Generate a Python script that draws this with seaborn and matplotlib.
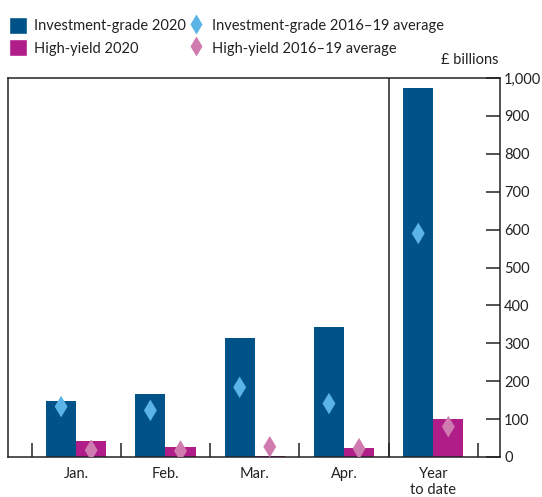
import numpy as np
import pandas as pd
import matplotlib
matplotlib.use('Agg')
import matplotlib.pyplot as plt
import seaborn as sns
from matplotlib.lines import Line2D
from matplotlib.patches import Patch

sns.set_theme(style="white")
plt.rcParams['font.family'] = ['Lato', 'DejaVu Sans']

# Data (£ billions)
categories = ['Jan.', 'Feb.', 'Mar.', 'Apr.', 'Year\nto date']
ig_2020 = [147, 165, 314, 342, 973]
hy_2020 = [42, 27, 3, 24, 100]
ig_avg = [133, 123, 184, 141, 590]
hy_avg = [18, 16, 27, 22, 80]

c_ig = '#005289'
c_hy = '#B01C88'
c_ig_avg = '#5AB5E6'
c_hy_avg = '#CF7BAF'

bars = pd.DataFrame({
    'cat': categories * 2,
    'value': ig_2020 + hy_2020,
    'series': ['Investment-grade 2020'] * 5 + ['High-yield 2020'] * 5,
})

bar_w = 0.674
off = bar_w / 4
idx = np.arange(len(categories))
pts = pd.DataFrame({
    'x': np.concatenate([idx - off, idx + off]),
    'value': ig_avg + hy_avg,
    'series': ['Investment-grade 2016–19 average'] * 5 + ['High-yield 2016–19 average'] * 5,
})

fig = plt.figure(figsize=(5.42, 4.97), dpi=100)
ax = fig.add_axes([0.0148, 0.0805, 0.9077, 0.7625])

sns.barplot(data=bars, x='cat', y='value', hue='series', order=categories,
            palette=[c_ig, c_hy], width=bar_w, saturation=1, dodge=True,
            legend=False, ax=ax, linewidth=0)
sns.scatterplot(data=pts, x='x', y='value', hue='series',
                palette=[c_ig_avg, c_hy_avg], marker='d', s=120,
                edgecolor='none', legend=False, ax=ax, zorder=5)

ax.set_xlim(-0.763, 4.747)
ax.set_ylim(0, 1000)
ax.set_xlabel('')
ax.set_ylabel('')

# separator between months and year to date
ax.axvline(3.5, color='#222222', lw=1.1)

for s in ax.spines.values():
    s.set_color('#222222')
    s.set_linewidth(1.1)

ax.yaxis.tick_right()
ax.set_yticks(np.arange(0, 1001, 100))
ax.set_yticklabels([f'{v:,}' for v in range(0, 1001, 100)])
ax.tick_params(axis='y', direction='in', length=10, width=1.1, color='#222222',
               labelsize=10.5, labelcolor='#222222', pad=3, right=True, left=False)

ax.set_xticks(idx)
ax.set_xticklabels(categories)
ax.set_xticks(np.arange(-0.5, 4.6, 1.0), minor=True)
ax.tick_params(axis='x', which='major', length=0, labelsize=10.5,
               labelcolor='#222222', pad=7)
ax.tick_params(axis='x', which='minor', direction='in', length=10, width=1.1,
               color='#222222', bottom=True)

fig.text(0.867, 0.865, '£ billions', ha='center', va='bottom', fontsize=10.5, color='#222222')

handles = [
    Patch(facecolor=c_ig, label='Investment-grade 2020'),
    Patch(facecolor=c_hy, label='High-yield 2020'),
    Line2D([], [], marker='d', color='none', markerfacecolor=c_ig_avg,
           markeredgecolor='none', markersize=10, label='Investment-grade 2016–19 average'),
    Line2D([], [], marker='d', color='none', markerfacecolor=c_hy_avg,
           markeredgecolor='none', markersize=10, label='High-yield 2016–19 average'),
]
fig.legend(handles=handles, ncol=2, loc='upper left', bbox_to_anchor=(9 / 542, 1 - 17 / 497),
           frameon=False, fontsize=10.5, handlelength=1.25, handleheight=1.45,
           handletextpad=0.45, columnspacing=0.1, labelspacing=0.33,
           borderpad=0, borderaxespad=0, labelcolor='#222222')

fig.savefig('out.png', dpi=100)
